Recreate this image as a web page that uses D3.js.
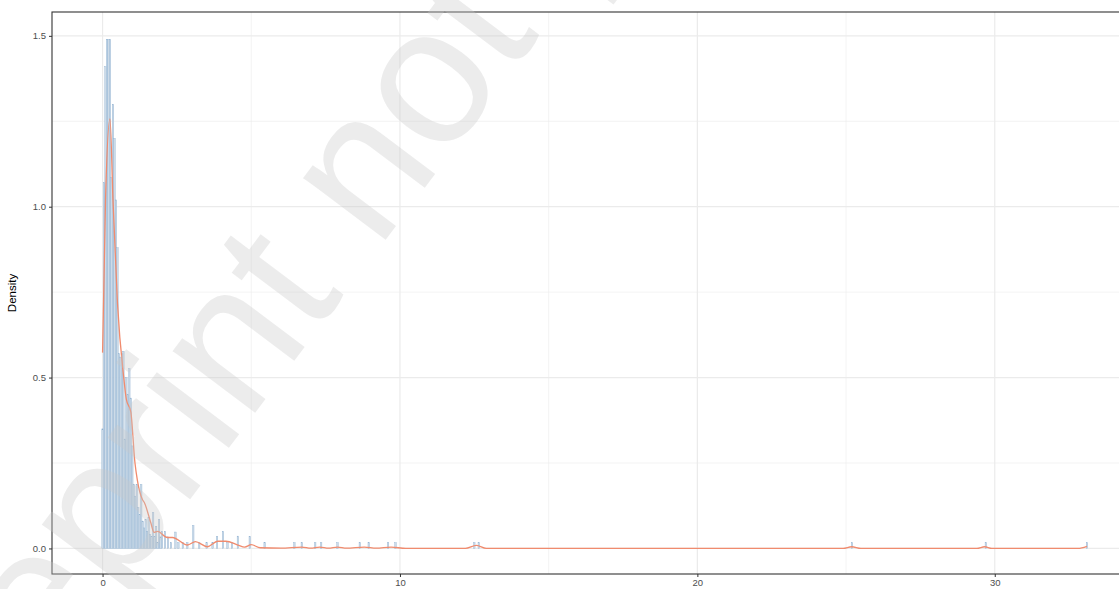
<!DOCTYPE html>
<html>
<head>
<meta charset="utf-8">
<script src="https://cdn.jsdelivr.net/npm/d3@7"></script>
<style>
  body { margin: 0; background: #fff; }
  svg { display: block; font-family: "Liberation Sans", Arial, sans-serif; }
</style>
</head>
<body>
<svg width="1119" height="589"></svg>
<script>
// histogram bins (centre, density), binwidth 0.05
const binWidth = 0.05;
const binCenters = [0.0, 0.05, 0.1, 0.15, 0.2, 0.25, 0.3, 0.35, 0.4, 0.45, 0.5, 0.55, 0.6, 0.65, 0.7, 0.75, 0.8, 0.85, 0.9, 0.95,
  1.0, 1.05, 1.1, 1.15, 1.2, 1.25, 1.3, 1.35, 1.4, 1.45, 1.5, 1.55, 1.6, 1.65, 1.7, 1.75, 1.8, 1.85, 1.9, 1.95,
  2.0, 2.1, 2.2, 2.3, 2.45, 2.55, 2.7, 2.85, 3.05, 3.25, 3.5, 3.7, 3.85, 4.05, 4.2, 4.35, 4.55, 4.95, 5.45,
  6.45, 6.7, 7.15, 7.35, 7.9, 8.65, 8.95, 9.6, 9.85, 12.5, 12.65, 25.2, 29.7, 33.1];
const binDensity = [0.35, 1.07, 1.41, 1.49, 1.49, 1.49, 1.085, 1.30, 1.20, 1.02, 0.88, 0.57, 0.56, 0.57, 0.577, 0.32, 0.50, 0.45, 0.526, 0.44,
  0.30, 0.187, 0.153, 0.187, 0.12, 0.10, 0.187, 0.08, 0.06, 0.085, 0.05, 0.09, 0.04, 0.035, 0.105, 0.035, 0.065, 0.017, 0.085, 0.034,
  0.05, 0.05, 0.034, 0.017, 0.048, 0.017, 0.017, 0.017, 0.067, 0.017, 0.017, 0.017, 0.035, 0.05, 0.017, 0.017, 0.036, 0.035, 0.017,
  0.017, 0.017, 0.017, 0.017, 0.017, 0.017, 0.017, 0.017, 0.017, 0.017, 0.017, 0.017, 0.017, 0.017];

// kernel density curve (x, density)
const densX = [0.0, 0.1, 0.25, 0.35, 0.5, 0.72, 0.8, 0.95, 1.09, 1.17, 1.34, 1.4, 1.62, 1.73, 1.85, 2.18, 2.35, 2.86, 3.12, 3.52, 3.87, 4.15, 4.55, 4.78, 5.0, 5.3, 6.0, 6.7, 7.0, 7.3, 7.6, 7.9, 8.2, 8.8, 9.2, 9.7, 10.2, 12.2, 12.57, 12.9, 24.9, 25.19, 25.5, 29.4, 29.66, 29.9, 32.8, 33.1];
const densY = [0.573, 1.02, 1.257, 1.02, 0.72, 0.494, 0.436, 0.40, 0.25, 0.20, 0.143, 0.135, 0.076, 0.047, 0.05, 0.032, 0.032, 0.01, 0.02, 0.005, 0.021, 0.021, 0.01, 0.004, 0.011, 0.002, 0.001, 0.004, 0.001, 0.004, 0.001, 0.004, 0.001, 0.004, 0.001, 0.004, 0.0, 0.0, 0.009, 0.0, 0.0, 0.005, 0.0, 0.0, 0.005, 0.0, 0.0, 0.006];

const yTicks = [0.0, 0.5, 1.0, 1.5];
const xTicks = [0, 10, 20, 30];

const svg = d3.select("svg");
const margin = {top: 12, right: -20, bottom: 15, left: 52};
const width = 1119 - margin.left - margin.right;
const height = 589 - margin.top - margin.bottom;

const x = d3.scaleLinear().domain([-1.7, 34.85]).range([0, width]);
const y = d3.scaleLinear().domain([-0.0748, 1.5698]).range([height, 0]);

const g = svg.append("g").attr("transform", `translate(${margin.left},${margin.top})`);

g.append("rect").attr("width", width).attr("height", height).attr("fill", "#fff");

// minor grid
g.append("g").selectAll("line")
  .data([5, 15, 25])
  .join("line")
  .attr("x1", d => x(d)).attr("x2", d => x(d))
  .attr("y1", 0).attr("y2", height)
  .attr("stroke", "#ebebeb").attr("stroke-width", 0.6);
g.append("g").selectAll("line")
  .data([0.25, 0.75, 1.25])
  .join("line")
  .attr("x1", 0).attr("x2", width)
  .attr("y1", d => y(d)).attr("y2", d => y(d))
  .attr("stroke", "#ebebeb").attr("stroke-width", 0.6);
// major grid
g.append("g").selectAll("line")
  .data(xTicks)
  .join("line")
  .attr("x1", d => x(d)).attr("x2", d => x(d))
  .attr("y1", 0).attr("y2", height)
  .attr("stroke", "#ebebeb").attr("stroke-width", 1.2);
g.append("g").selectAll("line")
  .data(yTicks)
  .join("line")
  .attr("x1", 0).attr("x2", width)
  .attr("y1", d => y(d)).attr("y2", d => y(d))
  .attr("stroke", "#ebebeb").attr("stroke-width", 1.2);

// histogram
const bins = binCenters.map((c, i) => ({c, d: binDensity[i]}));
g.append("g").selectAll("rect")
  .data(bins)
  .join("rect")
  .attr("x", d => x(d.c - binWidth / 2))
  .attr("width", d => x(d.c + binWidth / 2) - x(d.c - binWidth / 2))
  .attr("y", d => y(d.d))
  .attr("height", d => y(0) - y(d.d))
  .attr("fill", "#cddbe8")
  .attr("stroke", "#8fb1d1")
  .attr("stroke-width", 0.4);

// density line
const dens = densX.map((v, i) => [v, densY[i]]);
g.append("path")
  .datum(dens)
  .attr("fill", "none")
  .attr("stroke", "#f08b6e")
  .attr("stroke-width", 1.3)
  .attr("d", d3.line().x(d => x(d[0])).y(d => y(d[1])).curve(d3.curveMonotoneX));

// watermark
svg.append("text")
  .attr("transform", "translate(-66,839) rotate(-53)")
  .attr("font-size", 195)
  .attr("fill", "#c8c8c8")
  .attr("fill-opacity", 0.35)
  .text("Preprint not peer reviewed");

// panel border
g.append("rect").attr("width", width).attr("height", height)
  .attr("fill", "none").attr("stroke", "#333").attr("stroke-width", 1.1);

// axes
const yAxis = g.append("g").call(d3.axisLeft(y).tickValues(yTicks).tickFormat(d3.format(".1f")).tickSize(3).tickPadding(3));
const xAxis = g.append("g").attr("transform", `translate(0,${height})`)
  .call(d3.axisBottom(x).tickValues(xTicks).tickSize(3).tickPadding(2));
[yAxis, xAxis].forEach(a => {
  a.select(".domain").remove();
  a.selectAll(".tick line").attr("stroke", "#333");
  a.selectAll(".tick text").attr("fill", "#4d4d4d").attr("font-size", 9.5)
    .attr("font-family", "Liberation Sans, Arial, sans-serif");
});

svg.append("text")
  .attr("transform", `translate(16,${margin.top + height / 2}) rotate(-90)`)
  .attr("text-anchor", "middle")
  .attr("font-size", 11.5)
  .attr("fill", "#000")
  .text("Density");
</script>
</body>
</html>
